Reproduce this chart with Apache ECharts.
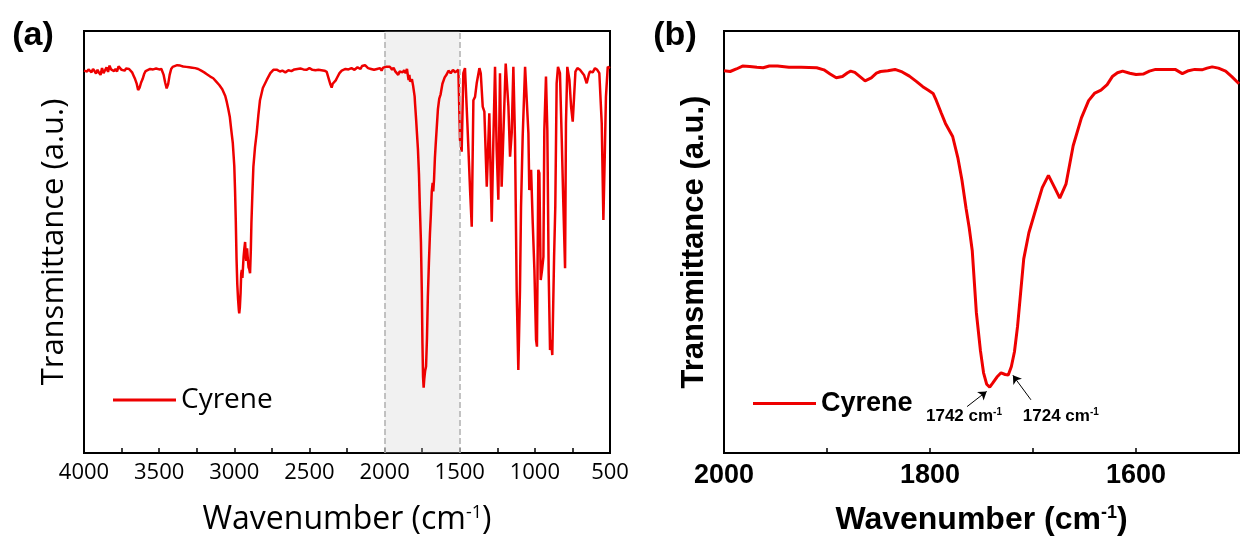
<!DOCTYPE html>
<html>
<head>
<meta charset="utf-8">
<script src="https://cdn.jsdelivr.net/npm/echarts/dist/echarts.min.js"></script>
<style>html,body{margin:0;padding:0;background:#fff}#c{width:1242px;height:544px}</style>
</head>
<body>
<div id="c"></div>
<script>
// ---------- Data ----------
const waveA = [4000,3990,3980,3970,3960,3950,3940,3930,3920,3910,3900,3890,3880,3870,3860,3850,3840,3830,3820,3810,3800,3790,3780,3770,3760,3750,3740,3730,3720,3710,3700,3690,3680,3670,3660,3650,3640,3630,3620,3610,3600,3590,3580,3560,3540,3520,3500,3485,3470,3460,3450,3440,3430,3420,3410,3400,3380,3360,3340,3320,3300,3280,3260,3240,3220,3200,3180,3160,3140,3120,3100,3080,3060,3050,3040,3030,3020,3010,3000,2995,2990,2985,2980,2975,2970,2967,2963,2958,2954,2950,2946,2942,2938,2933,2928,2924,2920,2915,2910,2905,2900,2895,2890,2886,2880,2873,2862,2851,2840,2829,2810,2784,2760,2740,2729,2715,2696,2680,2660,2640,2620,2600,2580,2560,2540,2520,2500,2480,2460,2440,2420,2400,2385,2370,2360,2352,2345,2335,2325,2318,2300,2285,2274,2260,2240,2220,2200,2180,2160,2150,2140,2130,2119,2110,2100,2090,2080,2070,2060,2050,2040,2030,2020,2010,2000,1990,1980,1964,1950,1940,1930,1920,1909,1900,1890,1880,1870,1860,1851,1845,1840,1835,1830,1824,1818,1810,1800,1797,1790,1785,1778,1771,1765,1758,1752,1748,1744,1740,1736,1730,1724,1718,1712,1705,1698,1692,1686,1680,1676,1671,1665,1660,1653,1645,1636,1627,1615,1600,1587,1575,1560,1545,1530,1518,1509,1498,1487,1476,1465,1449,1431,1420,1409,1398,1387,1369,1360,1347,1336,1320,1303,1287,1276,1265,1254,1243,1232,1221,1210,1194,1176,1165,1154,1143,1132,1121,1110,1099,1092,1081,1065,1054,1043,1037,1025,1014,1003,992,986,977,970,961,952,943,937,926,917,908,899,892,884,872,864,855,846,833,821,810,799,793,784,770,759,748,739,730,717,700,688,672,655,640,633,615,600,585,571,555,544,535,527,515,500];
const transA = [90.6,90.8,90.4,90.9,90.6,90.2,91.0,90.5,89.9,90.8,90.1,89.6,91.2,90.0,89.8,91.4,90.3,91.8,90.9,91.3,90.5,91.0,90.4,91.6,91.9,90.8,91.2,90.6,91.1,90.7,91.0,90.6,90.2,89.4,88.6,87.6,86.0,86.6,87.8,88.6,89.8,90.5,90.9,91.0,90.9,91.1,90.9,91.0,89.6,87.8,86.4,87.4,89.6,91.0,91.5,91.7,91.9,91.8,91.6,91.5,91.4,91.3,91.2,91.0,90.6,90.2,89.7,89.2,88.8,88.0,87.2,86.2,84.6,83.2,81.5,79.7,76.5,73.5,68.0,62.3,55.0,46.0,40.0,36.5,34.0,33.1,34.5,38.0,42.5,43.4,41.5,44.0,46.5,48.5,50.0,47.0,45.5,48.5,46.0,44.0,43.5,42.6,48.0,54.5,61.0,67.8,72.5,75.8,80.0,83.6,86.5,88.4,90.0,90.8,91.2,90.8,90.4,90.6,90.2,90.7,90.5,90.9,91.0,91.1,90.9,90.8,91.2,90.8,90.7,90.8,90.7,90.6,90.3,88.5,87.3,86.6,87.5,87.2,88.3,88.8,90.0,90.6,90.8,91.0,90.9,91.2,90.8,91.4,91.0,91.7,91.4,91.9,91.9,91.2,91.6,91.0,91.3,90.8,91.2,91.0,91.4,91.2,90.6,91.3,91.0,91.5,91.2,91.5,90.8,91.3,90.5,90.9,89.6,90.4,90.8,90.2,90.7,90.0,91.0,89.5,88.4,89.6,88.0,87.7,88.6,87.0,84.5,82.7,79.0,76.0,72.0,66.0,58.0,50.0,38.0,26.0,18.0,15.5,17.5,19.5,20.5,27.0,37.0,45.0,52.0,56.5,62.0,64.0,62.0,64.7,70.0,73.0,77.0,81.5,84.0,85.0,87.5,89.0,89.7,90.6,90.0,90.8,90.2,90.6,90.8,74.2,71.4,90.0,91.2,78.1,62.3,53.6,83.6,84.4,87.6,91.2,90.0,82.1,80.9,63.1,80.5,54.8,74.2,91.5,71.8,60.0,90.0,63.1,75.0,92.3,82.1,70.2,75.8,91.5,74.2,38.6,19.7,38.6,58.4,75.0,91.5,91.9,75.8,62.3,67.1,54.4,43.4,26.8,25.2,67.1,66.3,41.0,43.4,46.5,76.5,89.2,76.5,42.6,24.4,26.8,23.2,46.5,58.4,87.6,91.5,90.0,74.2,58.4,43.8,78.1,91.5,88.4,82.1,78.5,84.4,90.4,91.2,90.8,90.4,89.5,87.6,89.8,90.4,90.2,91.2,90.8,90.0,78.1,55.2,70.2,84.4,91.5,91.2];

const waveB = [2000,1994,1988,1982,1975,1968,1962,1956,1948,1937,1925,1910,1903,1897,1891,1885,1880,1877,1873,1868,1863,1857,1852,1848,1841,1834,1827,1820,1813,1807,1802,1797,1794,1789,1785,1778,1773,1769,1765,1762,1759,1755,1751,1748,1745,1742,1739,1735,1731,1727,1724,1721,1718,1715,1712,1709,1704,1697,1691,1685,1679,1674,1668,1661,1653,1646,1640,1634,1628,1623,1618,1613,1606,1600,1593,1587,1581,1572,1562,1555,1549,1543,1536,1531,1526,1520,1513,1507,1500];
const transB = [90.6,90.4,91.0,91.7,91.6,91.4,91.3,91.7,91.7,91.4,91.4,91.3,90.8,89.8,88.9,89.2,90.1,90.5,90.2,89.2,88.2,88.9,90.0,90.4,90.6,90.9,90.3,89.3,88.0,86.8,86.0,85.2,83.6,80.5,78.1,75.0,70.0,64.7,58.0,53.5,48.0,33.3,24.2,19.0,16.3,15.6,16.6,18.0,19.0,18.6,18.5,20.5,24.0,30.0,38.0,46.0,52.2,58.0,62.9,65.8,62.9,60.4,63.7,72.8,79.4,83.5,85.3,86.0,87.3,89.2,90.1,90.5,90.0,89.7,89.8,90.5,90.9,90.9,90.9,89.9,90.6,90.9,90.8,91.2,91.5,91.2,90.5,89.2,87.5];

const seriesName = 'Cyrene';
const panelLabels = ['(a)', '(b)'];
const xTitle = ['Wavenumber (cm', '-1', ')'];
const yTitle = 'Transmittance (a.u.)';
const highlightBand = [2000, 1500];          // shaded range in panel (a)
const annotations = [                        // panel (b) peak labels
  { text: '1742 cm', sup: '-1', at: [1767, 8.8], from: [1764, 11.0], to: [1745, 14.6] },
  { text: '1724 cm', sup: '-1', at: [1673, 8.8], from: [1702, 12.6], to: [1719.5, 18.4] }
];

// ---------- Chart ----------
const RED = '#ee0000';
const FA = '"Open Sans", sans-serif';
const FB = '"Liberation Sans", Arial, sans-serif';

const dataA = waveA.map((w, i) => [w, transA[i]]);
const dataB = waveB.map((w, i) => [w, transB[i]]);

const chart = echarts.init(document.getElementById('c'), null, { renderer: 'canvas' });

function xAxisCfg(idx, font, bold, tickSize, titleSize, min, max, interval, fmt, minor) {
  return {
    type: 'value', gridIndex: idx, inverse: true, min: min, max: max, interval: interval,
    axisLine: { show: true, lineStyle: { color: '#000', width: 2 } },
    axisTick: { show: true, inside: true, length: 5, lineStyle: { color: '#000', width: 1.5 } },
    minorTick: { show: minor, splitNumber: 2, length: 5, lineStyle: { color: '#000', width: 1.5 } },
    splitLine: { show: false },
    axisLabel: { margin: 9, color: '#000', fontFamily: font, fontWeight: bold ? 'bold' : 'normal', fontSize: tickSize, formatter: fmt },
    name: '{t|' + xTitle[0] + '}{s|' + xTitle[1] + '}{t|' + xTitle[2] + '}',
    nameLocation: 'middle', nameGap: 51,
    nameTextStyle: {
      rich: {
        t: { fontFamily: font, fontWeight: bold ? 'bold' : 'normal', fontSize: titleSize, color: '#000' },
        s: { fontFamily: font, fontWeight: bold ? 'bold' : 'normal', fontSize: Math.round(titleSize * 0.55), color: '#000', verticalAlign: 'top' }
      }
    }
  };
}
function yAxisCfg(idx, font, bold, titleSize) {
  return {
    type: 'value', gridIndex: idx, min: 0, max: 100,
    axisLine: { show: true, lineStyle: { color: '#000', width: 2 } },
    axisTick: { show: false }, axisLabel: { show: false }, splitLine: { show: false },
    name: yTitle, nameLocation: 'middle', nameGap: 14,
    nameTextStyle: { fontFamily: font, fontWeight: bold ? 'bold' : 'normal', fontSize: titleSize, color: '#000' }
  };
}

const option = {
  animation: false,
  backgroundColor: '#fff',
  grid: [
    { left: 84, top: 31, width: 526, height: 422, show: true, borderColor: '#000', borderWidth: 2, backgroundColor: 'transparent' },
    { left: 724, top: 31, width: 525, height: 422, show: true, borderColor: '#000', borderWidth: 2, backgroundColor: 'transparent' }
  ],
  xAxis: [
    xAxisCfg(0, FA, false, 22, 32, 500, 4000, 500, function (v) { return String(v); }, true),
    xAxisCfg(1, FB, true, 27, 32, 1500, 2000, 100, function (v) { return v % 200 === 0 ? String(v) : ''; }, false)
  ],
  yAxis: [ yAxisCfg(0, FA, false, 31), yAxisCfg(1, FB, true, 31) ],
  legend: [
    { data: [{ name: seriesName, icon: 'rect' }], left: 113, top: 386, padding: 0, itemWidth: 63, itemHeight: 3, selectedMode: false,
      textStyle: { fontFamily: FA, fontSize: 28, color: '#000' } },
    { data: [{ name: seriesName, icon: 'rect' }], left: 753, top: 390, padding: 0, itemWidth: 63, itemHeight: 3, selectedMode: false,
      textStyle: { fontFamily: FB, fontWeight: 'bold', fontSize: 27, color: '#000' } }
  ],
  graphic: [
    { type: 'text', x: 33, y: 36, style: { text: panelLabels[0], font: 'bold 34px "Liberation Sans", Arial', fill: '#000', align: 'center', verticalAlign: 'middle', textAlign: 'center', textVerticalAlign: 'middle' } },
    { type: 'text', x: 675, y: 36, style: { text: panelLabels[1], font: 'bold 34px "Liberation Sans", Arial', fill: '#000', align: 'center', verticalAlign: 'middle', textAlign: 'center', textVerticalAlign: 'middle' } }
  ],
  series: [
    {
      name: seriesName, type: 'line', xAxisIndex: 0, yAxisIndex: 0, data: dataA,
      symbol: 'none', showSymbol: false, lineStyle: { color: RED, width: 2.5 }, itemStyle: { color: RED },
      markArea: { silent: true, z: 3, itemStyle: { color: 'rgba(195,195,195,0.24)' },
        data: [[{ xAxis: highlightBand[0] }, { xAxis: highlightBand[1] }]] },
      markLine: { silent: true, symbol: 'none', label: { show: false },
        lineStyle: { color: '#b0b0b0', type: 'dashed', width: 1.5 },
        data: [{ xAxis: highlightBand[0] }, { xAxis: highlightBand[1] }] }
    },
    {
      name: seriesName, type: 'line', xAxisIndex: 1, yAxisIndex: 1, data: dataB,
      symbol: 'none', showSymbol: false, lineStyle: { color: RED, width: 3 }, itemStyle: { color: RED },
      markPoint: {
        silent: true, symbol: 'circle', symbolSize: 1, itemStyle: { color: 'rgba(0,0,0,0)' },
        label: {
          show: true, position: 'inside', color: '#000',
          rich: {
            n: { fontFamily: FB, fontWeight: 'bold', fontSize: 17, color: '#000' },
            s: { fontFamily: FB, fontWeight: 'bold', fontSize: 10, color: '#000', verticalAlign: 'top' }
          }
        },
        data: annotations.map(a => ({ coord: a.at, label: { formatter: '{n|' + a.text + '}{s|' + a.sup + '}' } }))
      },
      markLine: {
        silent: true, symbol: ['none', 'arrow'], symbolSize: 8, label: { show: false },
        lineStyle: { color: '#000', width: 1, type: 'solid' },
        data: annotations.map(a => [{ coord: a.from }, { coord: a.to }])
      }
    }
  ]
};
chart.setOption(option);
</script>
</body>
</html>
